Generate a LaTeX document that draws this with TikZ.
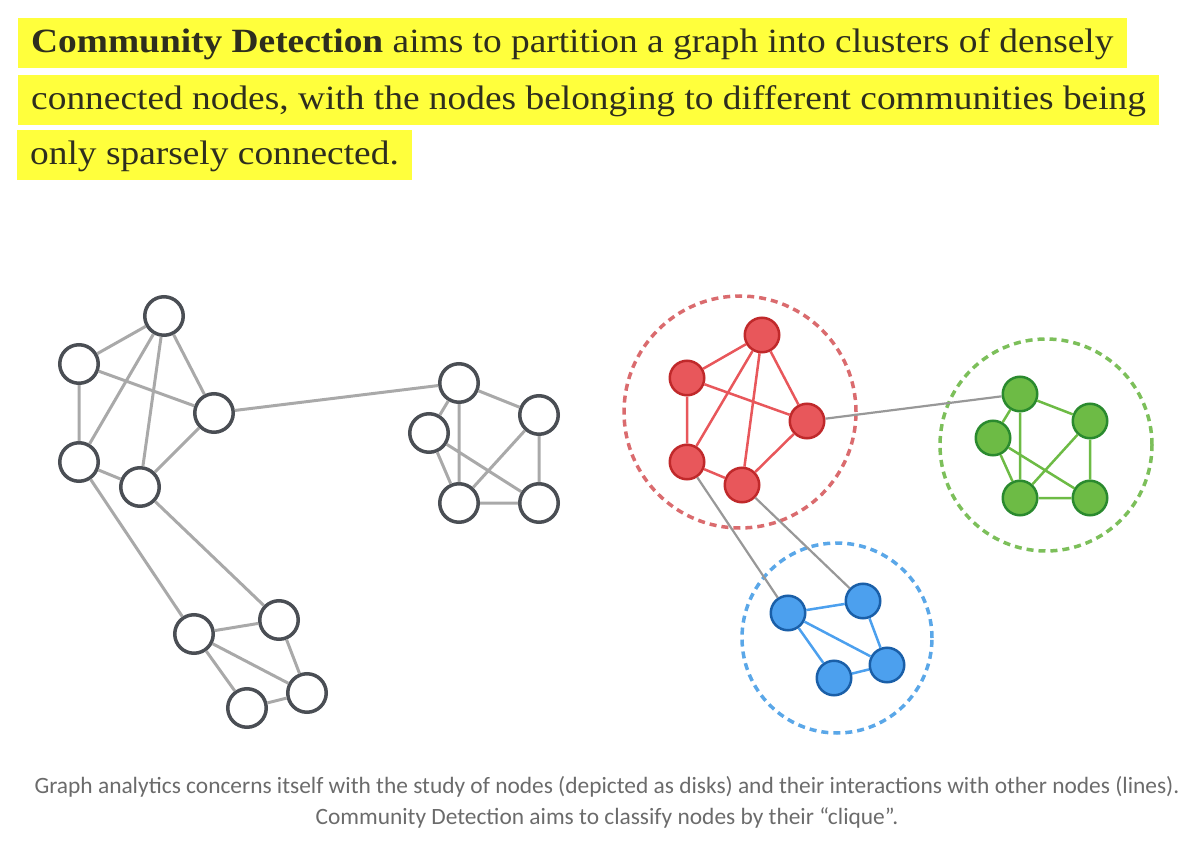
\documentclass[tikz,border=0pt]{standalone}
\usepackage{fontspec}
\setmainfont{Liberation Serif}
\newfontfamily\headfont[FakeStretch=1.1]{Liberation Serif}
\newfontfamily\captionfont{Carlito}
\definecolor{marker}{HTML}{FFFF3C}
\definecolor{inktext}{HTML}{2E2E1E}
\definecolor{captiongray}{HTML}{6B6B6B}
\definecolor{nodegray}{HTML}{4A4E54}
\definecolor{edgegray}{HTML}{A9A9A9}
\definecolor{redfill}{HTML}{E8575B}
\definecolor{redline}{HTML}{C0292B}
\definecolor{redhull}{HTML}{DA6B6E}
\definecolor{greenfill}{HTML}{6DBB45}
\definecolor{greenline}{HTML}{2A8A2E}
\definecolor{greenhull}{HTML}{7CBF5A}
\definecolor{bluefill}{HTML}{4CA0EE}
\definecolor{blueline}{HTML}{1A5FA8}
\definecolor{bluehull}{HTML}{5AA7E8}

\begin{document}
\begin{tikzpicture}[x=1pt,y=-1pt,
headline/.style={anchor=base west,fill=marker,text=inktext,inner xsep=13pt,inner ysep=0pt,
  text height=35pt,text depth=15pt,font=\headfont\fontsize{34}{40}\selectfont},
caption/.style={text=captiongray,font=\captionfont\fontsize{23.4}{31}\selectfont,align=center},
plain/.style={circle,draw=nodegray,fill=white,line width=3.5pt,minimum size=38.5pt,inner sep=0pt},
member/.style={circle,line width=2.5pt,minimum size=34.5pt,inner sep=0pt},
rednode/.style={member,draw=redline,fill=redfill},
greennode/.style={member,draw=greenline,fill=greenfill},
bluenode/.style={member,draw=blueline,fill=bluefill},
hull/.style={circle,inner sep=0pt,line width=3.5pt,dash pattern=on 7pt off 5pt},
grayedge/.style={edgegray,line width=3pt},
bridge/.style={edgegray!90!black,line width=2.2pt},
rededge/.style={redfill,line width=2.5pt},
greenedge/.style={greenfill,line width=2.5pt},
blueedge/.style={bluefill,line width=2.5pt}]
\useasboundingbox (0,0) rectangle (1200,845);

% highlighted heading
\node [headline] (head1) at (18,53) {\textbf{Community Detection} aims to partition a graph into clusters of densely};
\node [headline] (head2) at (18,110) {connected nodes, with the nodes belonging to different communities being};
\node [headline] (head3) at (17,165) {only sparsely connected.};

% unlabelled graph
\node [plain] (l1) at (164,316) {};
\node [plain] (l2) at (79,364) {};
\node [plain] (l3) at (214,413) {};
\node [plain] (l4) at (79,462) {};
\node [plain] (l5) at (140,487) {};
\node [plain] (l6) at (194,634) {};
\node [plain] (l7) at (279,620) {};
\node [plain] (l8) at (247,708) {};
\node [plain] (l9) at (307,693) {};
\node [plain] (m1) at (459,383) {};
\node [plain] (m2) at (539,415) {};
\node [plain] (m3) at (429,433) {};
\node [plain] (m4) at (459,503) {};
\node [plain] (m5) at (539,503) {};

\draw [grayedge] (l1) -- (l2) (l1) -- (l4) (l1) -- (l5) (l1) -- (l3)
  (l2) -- (l3) (l2) -- (l4) (l4) -- (l5) (l5) -- (l3)
  (l4) -- (l6) (l5) -- (l7) (l6) -- (l7) (l6) -- (l8) (l6) -- (l9)
  (l7) -- (l9) (l8) -- (l9);
\draw [grayedge] (m1) -- (m3) (m1) -- (m4) (m1) -- (m2) (m3) -- (m4)
  (m3) -- (m5) (m2) -- (m4) (m2) -- (m5) (m4) -- (m5);
\draw [grayedge] (l3) -- (m1);

% communities
\node [hull,draw=redhull,minimum size=232pt] (redzone) at (740,412) {};
\node [hull,draw=greenhull,minimum size=212pt] (greenzone) at (1046,445) {};
\node [hull,draw=bluehull,minimum size=190pt] (bluezone) at (837,638) {};

\node [rednode] (r1) at (762,335) {};
\node [rednode] (r2) at (687,378) {};
\node [rednode] (r3) at (807,421) {};
\node [rednode] (r4) at (687,462) {};
\node [rednode] (r5) at (742,485) {};
\node [greennode] (g1) at (1020,394) {};
\node [greennode] (g2) at (1090,421) {};
\node [greennode] (g3) at (993,438) {};
\node [greennode] (g4) at (1020,498) {};
\node [greennode] (g5) at (1090,498) {};
\node [bluenode] (b1) at (788,613) {};
\node [bluenode] (b2) at (863,601) {};
\node [bluenode] (b3) at (887,665) {};
\node [bluenode] (b4) at (834,678) {};

\draw [rededge] (r1) -- (r2) (r1) -- (r4) (r1) -- (r5) (r1) -- (r3)
  (r2) -- (r3) (r2) -- (r4) (r4) -- (r5) (r5) -- (r3);
\draw [greenedge] (g1) -- (g3) (g1) -- (g4) (g1) -- (g2) (g3) -- (g4)
  (g3) -- (g5) (g2) -- (g4) (g2) -- (g5) (g4) -- (g5);
\draw [blueedge] (b1) -- (b2) (b1) -- (b3) (b1) -- (b4) (b2) -- (b3) (b4) -- (b3);
\draw [bridge] (r3) -- (g1) (r4) -- (b1) (r5) -- (b2);

\node [caption] (note) at (607,802) {Graph analytics concerns itself with the study of nodes (depicted as disks) and their interactions with other nodes (lines).\\
Community Detection aims to classify nodes by their “clique”.};
\end{tikzpicture}
\end{document}
